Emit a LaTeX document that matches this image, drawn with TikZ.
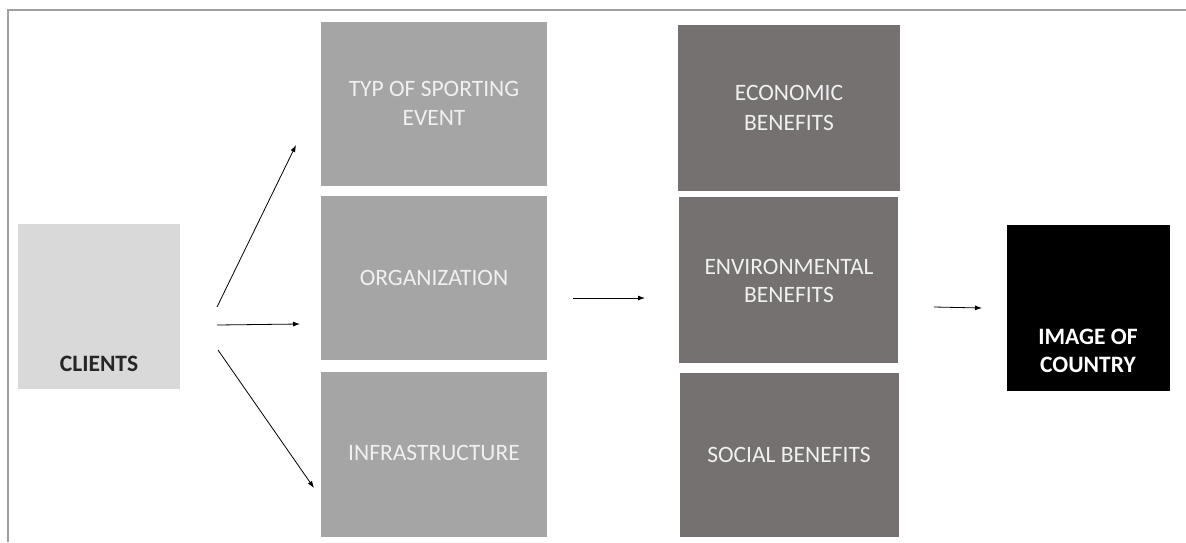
\documentclass[tikz,border=0pt]{standalone}
\usepackage{fontspec}
\setmainfont{Carlito}
\usetikzlibrary{arrows.meta}
\definecolor{framegray}{HTML}{A0A0A0}
\definecolor{clientfill}{HTML}{D9D9D9}
\definecolor{midfill}{HTML}{A5A5A5}
\definecolor{darkfill}{HTML}{757171}
\definecolor{lighttext}{HTML}{F0F0F0}
\definecolor{darktext}{HTML}{262626}
\begin{document}
\begin{tikzpicture}[x=1pt,y=-1pt,
  box/.style={draw=none,inner sep=0pt,outer sep=0pt},
  lbl/.style={anchor=base,inner sep=0pt,font=\fontsize{23.5}{28}\selectfont},
  conn/.style={line width=0.8pt,-{Latex[length=7pt,width=5pt]}}]
\useasboundingbox (0,0) rectangle (1186,542);
\draw[framegray,line width=1.5pt] (8,542) -- (8,10) -- (1186,10);
% boxes
\node[box,fill=clientfill,minimum width=162pt,minimum height=165pt] (clients) at (99,306.5) {};
\node[box,fill=midfill,minimum width=226pt,minimum height=164pt] (typ) at (434,104) {};
\node[box,fill=midfill,minimum width=226pt,minimum height=164pt] (org) at (434,278) {};
\node[box,fill=midfill,minimum width=226pt,minimum height=165pt] (infra) at (434,454.5) {};
\node[box,fill=darkfill,minimum width=222pt,minimum height=166pt] (econ) at (789,108) {};
\node[box,fill=darkfill,minimum width=219pt,minimum height=166pt] (env) at (788.5,280) {};
\node[box,fill=darkfill,minimum width=219pt,minimum height=164pt] (soc) at (789,455) {};
\node[box,fill=black,minimum width=163pt,minimum height=166pt] (img) at (1088.5,308) {};
% labels
\node[lbl,text=darktext,font=\fontsize{23.5}{28}\selectfont\bfseries] (tclients) at (99,371.5) {CLIENTS};
\node[lbl,text=lighttext] (ttyp1) at (434,96.5) {TYP OF SPORTING};
\node[lbl,text=lighttext] (ttyp2) at (434,125.5) {EVENT};
\node[lbl,text=lighttext] (torg) at (434,285.5) {ORGANIZATION};
\node[lbl,text=lighttext] (tinfra) at (434,460.5) {INFRASTRUCTURE};
\node[lbl,text=lighttext] (tecon1) at (789,100.5) {ECONOMIC};
\node[lbl,text=lighttext] (tecon2) at (789,130.5) {BENEFITS};
\node[lbl,text=lighttext] (tenv1) at (789,274.5) {ENVIRONMENTAL};
\node[lbl,text=lighttext] (tenv2) at (789,302.5) {BENEFITS};
\node[lbl,text=lighttext] (tsoc) at (789,462.5) {SOCIAL BENEFITS};
\node[lbl,text=white,font=\fontsize{23.5}{28}\selectfont\bfseries] (timg1) at (1088,344.5) {IMAGE OF};
\node[lbl,text=white,font=\fontsize{23.5}{28}\selectfont\bfseries] (timg2) at (1088,372.5) {COUNTRY};
% connectors
\coordinate (s1) at (217,307); \coordinate (e1) at (296,145);
\coordinate (s2) at (217,325); \coordinate (e2) at (300,324);
\coordinate (s3) at (218,350); \coordinate (e3) at (314,488);
\coordinate (s4) at (573,298); \coordinate (e4) at (645,298);
\coordinate (s5) at (934,307); \coordinate (e5) at (982,308);
\draw[conn] (s1) -- (e1);
\draw[conn] (s2) -- (e2);
\draw[conn] (s3) -- (e3);
\draw[conn] (s4) -- (e4);
\draw[conn] (s5) -- (e5);
\end{tikzpicture}
\end{document}
